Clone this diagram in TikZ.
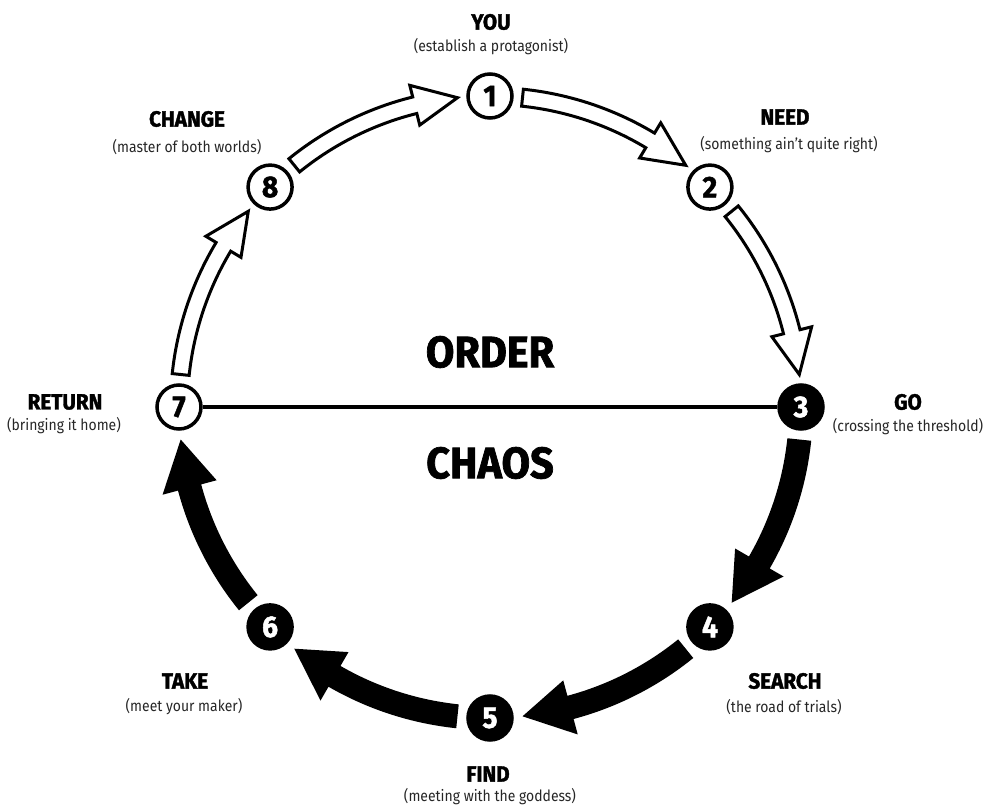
\documentclass[tikz,border=0pt]{standalone}
\usepackage{fontspec}
\setmainfont{Fira Sans}[FakeStretch=0.9, BoldFeatures={FakeStretch=0.94, FakeBold=1.6}]
\usetikzlibrary{calc}
\newcommand{\arcarrow}[6]{%
  \pgfmathsetmacro{\aaHB}{#2+#5}%
  \pgfmathsetmacro{\aaRO}{311+#3}%
  \pgfmathsetmacro{\aaRI}{311-#3}%
  \pgfmathsetmacro{\aaHO}{311+#4}%
  \pgfmathsetmacro{\aaHI}{311-#4}%
  \path[#6] (#1:\aaRO pt) arc[start angle=#1, end angle=\aaHB, radius=\aaRO pt]
    -- (\aaHB:\aaHO pt) -- (#2:311pt) -- (\aaHB:\aaHI pt) -- (\aaHB:\aaRI pt)
    arc[start angle=\aaHB, end angle=#1, radius=\aaRI pt] -- cycle;
}
\begin{document}
\begin{tikzpicture}[x=1pt,y=1pt,
  wnum/.style={circle, draw=black, line width=3.5pt, fill=white, minimum size=44pt, inner sep=0pt, font=\fontsize{30}{30}\selectfont\bfseries},
  bnum/.style={circle, draw=black, line width=3.5pt, fill=black, text=white, minimum size=44pt, inner sep=0pt, font=\fontsize{30}{30}\selectfont\bfseries},
  head/.style={font=\fontsize{22}{22}\selectfont\bfseries, inner sep=0pt},
  sub/.style={font=\fontsize{15.5}{15.5}\selectfont, text=black!85, inner sep=0pt},
  big/.style={font=\fontsize{44}{44}\selectfont\bfseries, inner sep=0pt},
  hollow/.style={draw=black, fill=white, line width=3pt, line join=miter},
  solid/.style={fill=black}
]
\useasboundingbox (-490,-401) rectangle (494,407);
% arrows
\arcarrow{84}{51}{8.5}{20.5}{8}{hollow}
\arcarrow{39}{6}{8.5}{20.5}{8}{hollow}
\arcarrow{174}{141}{8.5}{20.5}{8}{hollow}
\arcarrow{129}{96}{8.5}{20.5}{8}{hollow}
\arcarrow{-6}{-39}{12}{28}{9}{solid}
\arcarrow{-51}{-84}{12}{28}{9}{solid}
\arcarrow{-96}{-129}{12}{28}{9}{solid}
\arcarrow{-141}{-174}{12}{28}{9}{solid}
% nodes
\node[wnum] (n1) at (90:311) {1};
\node[wnum] (n2) at (45:311) {2};
\node[bnum] (n3) at (0:311) {3};
\node[bnum] (n4) at (-45:311) {4};
\node[bnum] (n5) at (-90:311) {5};
\node[bnum] (n6) at (-135:311) {6};
\node[wnum] (n7) at (180:311) {7};
\node[wnum] (n8) at (135:311) {8};
\draw[line width=4pt] (n7) -- (n3);
% center words
\node[big] (order) at (0,55) {ORDER};
\node[big] (chaos) at (0,-56) {CHAOS};
% labels
\node[head] (h1) at (1,385) {YOU};
\node[sub] (s1) at (1,360) {(establish a protagonist)};
\node[head] (h2) at (295,290) {NEED};
\node[sub] (s2) at (299,262) {(something ain't quite right)};
\node[head] (h8) at (-303,288) {CHANGE};
\node[sub] (s8) at (-303,260) {(master of both worlds)};
\node[head] (h7) at (-425,5) {RETURN};
\node[sub] (s7) at (-426,-19) {(bringing it home)};
\node[head] (h3) at (418,5) {GO};
\node[sub] (s3) at (418,-20) {(crossing the threshold)};
\node[head] (h4) at (295,-274) {SEARCH};
\node[sub] (s4) at (294,-300) {(the road of trials)};
\node[head] (h6) at (-305,-274) {TAKE};
\node[sub] (s6) at (-306,-300) {(meet your maker)};
\node[head] (h5) at (-2,-367) {FIND};
\node[sub] (s5) at (0,-390) {(meeting with the goddess)};
\end{tikzpicture}
\end{document}
